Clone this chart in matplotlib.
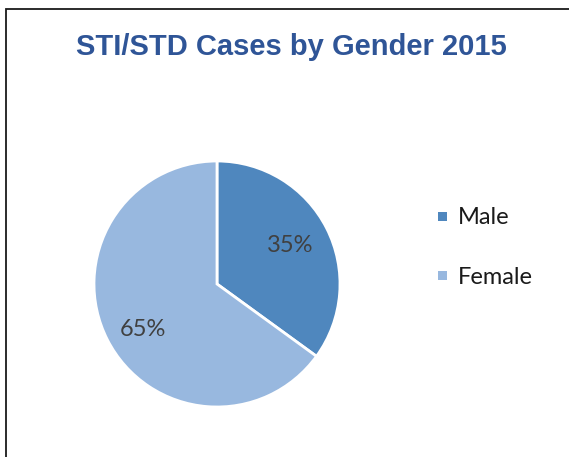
import matplotlib
matplotlib.use("Agg")
import matplotlib.pyplot as plt
from matplotlib.patches import Rectangle

title = "STI/STD Cases by Gender 2015"
categories = ["Male", "Female"]
values = [35, 65]
colors = ["#4F87BE", "#98B8DF"]

W, H = 569, 457
fig = plt.figure(figsize=(W / 100, H / 100), dpi=100)
ax = fig.add_axes([0, 0, 1, 1])
ax.set_xlim(0, W)
ax.set_ylim(0, H)
ax.set_aspect("equal")
ax.axis("off")

# frame border (only left/top visible)
ax.add_patch(Rectangle((6.5, -50), W + 100, H - 8.5 + 50, fill=False,
                       edgecolor="#1a1a1a", linewidth=1.3))

wedges, texts, autotexts = ax.pie(
    values, colors=colors, startangle=90, counterclock=False,
    center=(217, H - 284), radius=123,
    wedgeprops=dict(edgecolor="white", linewidth=2),
    autopct=lambda p: f"{p:.0f}%", pctdistance=0.67,
    textprops=dict(fontsize=17, color="#404040", family="Lato"))
# nudge labels to match the original placement
offsets = [(0, 1.5), (-1, -8)]
for t, (dx, dy) in zip(autotexts, offsets):
    x, y = t.get_position()
    t.set_position((x + dx, y + dy))
ax.set_xlim(0, W)
ax.set_ylim(0, H)

ax.text(291, H - 47, title, ha="center", va="center", fontsize=21,
        fontweight="bold", color="#2F5597", family="Liberation Sans")

# legend
leg_y = [216, 275]
for c, lab, y in zip(colors, categories, leg_y):
    ax.add_patch(Rectangle((438.5, H - y - 4.5), 9, 9, facecolor=c,
                           edgecolor="none"))
    ax.text(458, H - y - 2, lab, ha="left", va="center", fontsize=17,
            color="#1a1a1a", family="Lato")

fig.savefig("out.png", dpi=100)
